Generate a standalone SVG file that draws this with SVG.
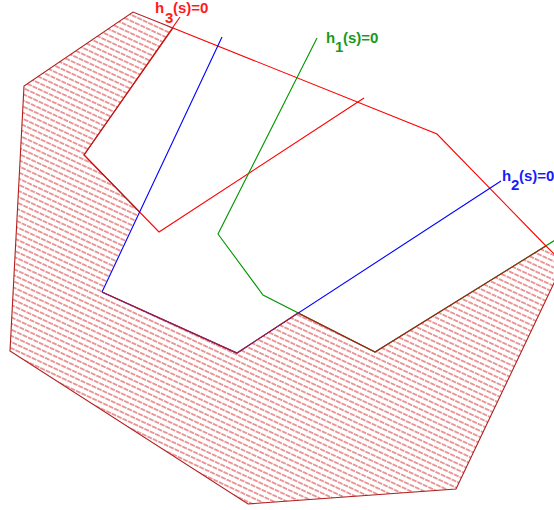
<svg xmlns="http://www.w3.org/2000/svg" width="554" height="510" viewBox="0 0 554 510">
<style>
.lbl{font-family:"Liberation Sans",Arial,sans-serif;font-weight:bold;font-size:15px}
.ln{fill:none;stroke-width:1.1;stroke-linejoin:miter}
</style>
<defs>
<pattern id="hatch" patternUnits="userSpaceOnUse" width="6" height="5.6" patternTransform="rotate(25)">
<line x1="0" y1="2.8" x2="5" y2="2.8" stroke="#dc4a4a" stroke-width="1.1"/>
</pattern>
</defs>
<rect width="554" height="510" fill="#ffffff"/>
<g id="region">
<path d="M133,12 L173,28 L84,155 L139.6,212 L102,292 L237,353 L298,313 L375,352 L546,246 L563.5,263 L456,489 L248,504 L10,351 L24,86 Z" fill="url(#hatch)" stroke="none"/>
</g>
<g id="connectors">
<path class="ln" stroke="#ff0000" d="M173,28 L437,134 L546,246 L563.5,263"/>
<path class="ln" stroke="#ff0000" d="M180,17 L84,155 L159,232 L364,98"/>
<path class="ln" stroke="#009600" d="M317,38 L218,234 L263,295 L375,352 L560,237"/>
<path class="ln" stroke="#0000ff" d="M102,292 L237,353 L501,181"/>
<path class="ln" stroke="#b01e1e" d="M546,246 L375,352 L298,313 L237,353 L102,292 M139.6,212 L84,155 L173,28 L133,12 L24,86 L10,351 L248,504 L456,489 L563.5,263"/>
<path class="ln" stroke="#0000ff" d="M222,37 L102,292"/>
</g>
<g id="label-h3" fill="#ff1a1a">
<text class="lbl" x="155" y="13">h</text>
<text class="lbl" x="165" y="23">3</text>
<text class="lbl" x="173" y="13">(s)=0</text>
</g>
<g id="label-h1" fill="#1a9a1a">
<text class="lbl" x="326" y="43">h</text>
<text class="lbl" x="335" y="52">1</text>
<text class="lbl" x="343" y="43">(s)=0</text>
</g>
<g id="label-h2" fill="#1a1aff">
<text class="lbl" x="502" y="181">h</text>
<text class="lbl" x="511" y="190">2</text>
<text class="lbl" x="519" y="181">(s)=0</text>
</g>
</svg>
